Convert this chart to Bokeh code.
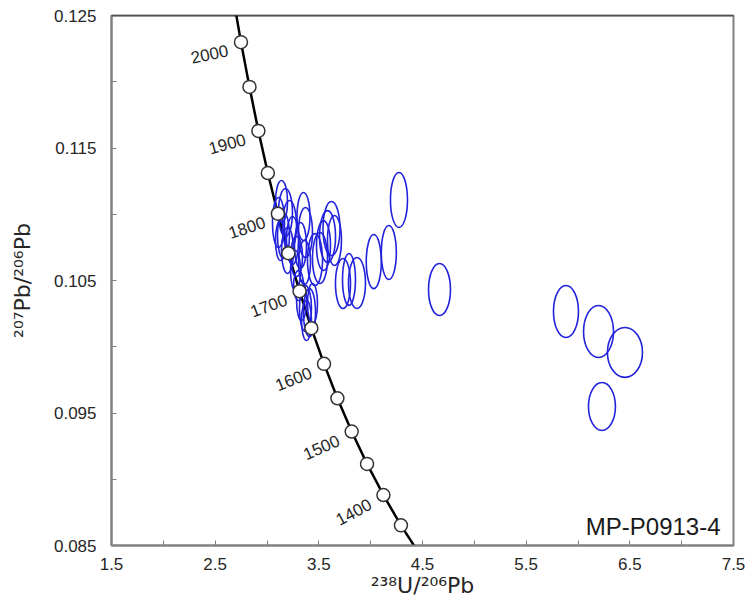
from bokeh.plotting import figure
from bokeh.models import FixedTicker, PrintfTickFormatter, Label, Span, ColumnDataSource, Range1d
from bokeh.core.properties import value
from bokeh.embed import file_html
from bokeh.resources import INLINE
import math

# ---------------- data ----------------
# concordia reference points (238U/206Pb, 207Pb/206Pb)
curve_x = [2.671, 2.749, 2.831, 2.917, 3.008, 3.105, 3.206, 3.314, 3.428, 3.550, 3.679, 3.817, 3.965, 4.123, 4.292, 4.476]
curve_y = [0.1265, 0.12299, 0.11961, 0.11629, 0.11311, 0.11004, 0.10706, 0.10419, 0.10140, 0.09871, 0.09611, 0.09360, 0.09116, 0.08881, 0.08652, 0.0843]

marker_age = [2000, 1950, 1900, 1850, 1800, 1750, 1700, 1650, 1600, 1550, 1500, 1450, 1400, 1350]
marker_x = [2.749, 2.831, 2.917, 3.008, 3.105, 3.206, 3.314, 3.428, 3.550, 3.679, 3.817, 3.965, 4.123, 4.292]
marker_y = [0.12299, 0.11961, 0.11629, 0.11311, 0.11004, 0.10706, 0.10419, 0.10140, 0.09871, 0.09611, 0.09360, 0.09116, 0.08881, 0.08652]

label_age = ["2000", "1900", "1800", "1700", "1600", "1500", "1400"]
label_x = [2.749, 2.917, 3.105, 3.314, 3.550, 3.817, 4.123]
label_y = [0.12299, 0.11629, 0.11004, 0.10419, 0.09871, 0.09360, 0.08881]
label_angle_deg = [12, 15, 18, 20, 22, 24, 28]

# analysis error ellipses: centre x, centre y, width (x), height (y)
ell_x = [3.140, 3.178, 3.111, 3.217, 3.159, 3.246, 3.130, 3.198, 3.285, 3.352,
         3.371, 3.323, 3.362, 3.275, 3.333, 3.371, 3.410, 3.381, 3.304, 3.439,
         3.622, 3.584, 3.651, 3.545, 3.511, 3.463, 3.733, 3.791, 3.868, 4.030,
         4.175, 4.273, 4.664, 5.884, 6.198, 6.453, 6.231]
ell_y = [0.11096, 0.11013, 0.10938, 0.10915, 0.10840, 0.10802, 0.10802, 0.10726, 0.10681, 0.10983,
         0.10862, 0.10764, 0.10636, 0.10575, 0.10349, 0.10289, 0.10258, 0.10198, 0.10462, 0.10326,
         0.10892, 0.10832, 0.10802, 0.10764, 0.10670, 0.10658, 0.10477, 0.10508, 0.10481, 0.10643,
         0.10711, 0.11108, 0.10432, 0.10266, 0.10115, 0.09957, 0.09549]
ell_w = [0.116, 0.135, 0.116, 0.135, 0.116, 0.116, 0.096, 0.116, 0.116, 0.125,
         0.135, 0.116, 0.116, 0.096, 0.096, 0.116, 0.116, 0.096, 0.096, 0.096,
         0.164, 0.154, 0.135, 0.135, 0.145, 0.145, 0.145, 0.125, 0.164, 0.145,
         0.145, 0.164, 0.212, 0.241, 0.289, 0.338, 0.260]
ell_h = [0.00317, 0.00362, 0.00377, 0.00377, 0.00347, 0.00362, 0.00302, 0.00347, 0.00302, 0.00362,
         0.00377, 0.00347, 0.00332, 0.00302, 0.00302, 0.00347, 0.00362, 0.00302, 0.00226, 0.00302,
         0.00408, 0.00392, 0.00377, 0.00377, 0.00385, 0.00392, 0.00377, 0.00392, 0.00385, 0.00408,
         0.00408, 0.00415, 0.00392, 0.00392, 0.00392, 0.00377, 0.00362]

x_major = [1.5, 2.5, 3.5, 4.5, 5.5, 6.5, 7.5]
x_minor = [2.0, 3.0, 4.0, 5.0, 6.0, 7.0]
y_major = [0.085, 0.095, 0.105, 0.115, 0.125]
y_minor = [0.090, 0.100, 0.110, 0.120]

sample_name = "MP-P0913-4"

# ---------------- figure ----------------
FONT = "Liberation Sans"
p = figure(width=748, height=603, output_backend="svg", toolbar_location=None,
           x_range=Range1d(1.5, 7.5), y_range=Range1d(0.085, 0.125),
           min_border_left=111, min_border_right=15, min_border_top=15, min_border_bottom=58)
p.grid.visible = False
p.outline_line_color = "#808080"
p.outline_line_width = 2
p.background_fill_color = "white"
p.border_fill_color = "white"

for ax, maj, mino, fmt in ((p.xaxis[0], x_major, x_minor, "%.1f"), (p.yaxis[0], y_major, y_minor, "%.3f")):
    ax.ticker = FixedTicker(ticks=maj, minor_ticks=mino)
    ax.formatter = PrintfTickFormatter(format=fmt)
    ax.major_tick_in = 5
    ax.major_tick_out = 0
    ax.minor_tick_in = 5
    ax.minor_tick_out = 0
    ax.axis_line_color = "#808080"
    ax.axis_line_width = 2
    ax.major_tick_line_color = "#808080"
    ax.minor_tick_line_color = "#808080"
    ax.major_label_text_font = FONT
    ax.major_label_text_font_size = "17px"
    ax.major_label_text_color = "#262626"
    ax.axis_label_text_font = "DejaVu Sans"
    ax.axis_label_text_font_size = "22px"
    ax.axis_label_text_font_style = "normal"
    ax.axis_label_text_color = "#262626"

p.xaxis.axis_label = "²³⁸U/²⁰⁶Pb"
p.yaxis.axis_label = "²⁰⁷Pb/²⁰⁶Pb"
p.xaxis.major_label_standoff = 12
p.xaxis.axis_label_standoff = 0
p.yaxis.major_label_standoff = 15
p.yaxis.axis_label_standoff = 16

p.add_layout(Span(location=0.125, dimension="width", line_color="#202020", line_width=1.5))

# concordia
p.line(curve_x, curve_y, line_color="black", line_width=2.5)

# ellipses
ell_src = ColumnDataSource(dict(x=ell_x, y=ell_y, w=ell_w, h=ell_h))
p.ellipse(x="x", y="y", width="w", height="h", source=ell_src,
          fill_color=None, line_color="#2222dc", line_width=1.6)

# markers
p.scatter(marker_x, marker_y, size=13, fill_color="white", line_color="#333333", line_width=1.5)

# age labels
lab_src = ColumnDataSource(dict(x=label_x, y=label_y, t=label_age,
                                a=[math.radians(d) for d in label_angle_deg]))
p.text(x="x", y="y", text="t", angle="a", source=lab_src,
       x_offset=-13, y_offset=8, text_align="right", text_baseline="middle",
       text_font=value(FONT), text_font_size="17px", text_color="#262626")

p.add_layout(Label(x=7.375, y=0.0864, text=sample_name, text_align="right", text_baseline="middle",
                   text_font=FONT, text_font_size="24px", text_color="#1a1a1a"))

open("out.html", "w").write(file_html(p, INLINE))
